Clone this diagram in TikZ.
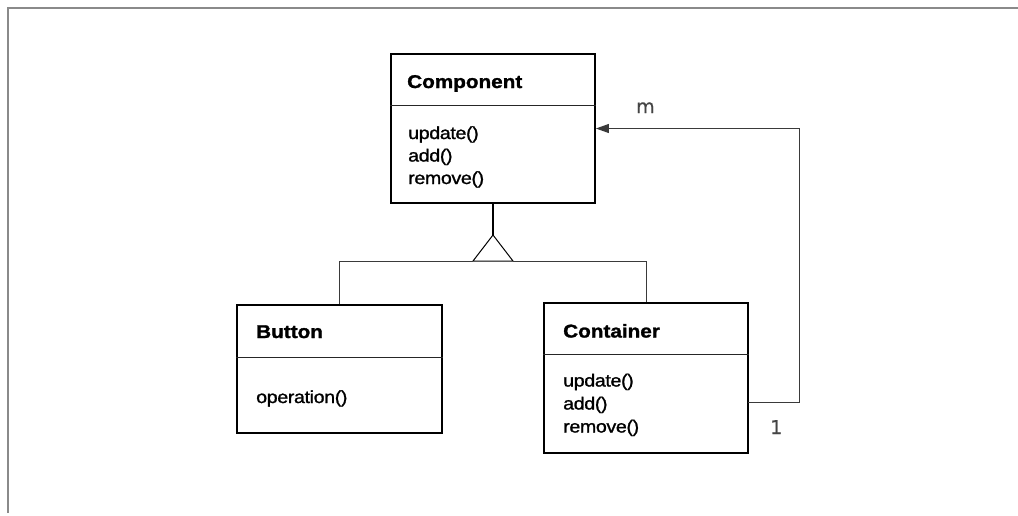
\documentclass[tikz,border=0pt]{standalone}
\usepackage{fontspec}
\setmainfont{Liberation Sans}
\newfontfamily\titlefont[FakeStretch=1.12,FakeBold=1.4]{Liberation Sans}
\newfontfamily\opfont[FakeStretch=1.12,FakeBold=1.3,LetterSpace=-2]{Liberation Sans}
\newfontfamily\multfont[FakeBold=0.8]{DejaVu Sans}
\usetikzlibrary{arrows.meta}
\definecolor{framegray}{HTML}{8A8A8A}
\definecolor{linegray}{HTML}{3A3A3A}
\definecolor{labelgray}{HTML}{444444}
\begin{document}
\begin{tikzpicture}[x=1pt,y=-1pt,
  classbox/.style={draw=black,line width=1.8pt,rectangle,minimum width=204pt,inner sep=0pt},
  divider/.style={draw=black!85,line width=1pt},
  title/.style={anchor=base west,inner sep=0pt,font=\titlefont\bfseries\fontsize{18.5}{20}\selectfont},
  method/.style={anchor=base west,inner sep=0pt,font=\opfont\fontsize{17.5}{20}\selectfont},
  link/.style={draw=linegray,line width=1pt},
  mult/.style={anchor=base west,inner sep=0pt,text=labelgray,font=\multfont\fontsize{19}{20}\selectfont}]
  \useasboundingbox (0,0) rectangle (1018,515);

  % page frame (top and left edges)
  \draw[framegray,line width=1.4pt] (8,513) -- (8,8) -- (1018,8);

  % classes
  \node[classbox,minimum height=149pt] (component) at (493,128.5) {};
  \node[classbox,minimum width=205pt,minimum height=128pt] (button) at (339.5,369) {};
  \node[classbox,minimum height=150pt] (container) at (646,378) {};

  % compartments
  \draw[divider] (component.west |- 0,105) -- (component.east |- 0,105);
  \draw[divider] (button.west |- 0,357) -- (button.east |- 0,357);
  \draw[divider] (container.west |- 0,354) -- (container.east |- 0,354);

  % names
  \node[title] (componentname) at (407,88) {Component};
  \node[title] (buttonname) at (256,338) {Button};
  \node[title] (containername) at (563,337.5) {Container};

  % operations
  \node[method] (compupdate) at (408,139) {update()};
  \node[method] (compadd) at (408,161.5) {add()};
  \node[method] (compremove) at (408,184) {remove()};
  \node[method] (buttonop) at (256,403) {operation()};
  \node[method] (contupdate) at (563,386.5) {update()};
  \node[method] (contadd) at (563,409.5) {add()};
  \node[method] (contremove) at (563,432.5) {remove()};

  % generalization: hollow triangle under Component
  \coordinate (apex) at (493,235);
  \coordinate (baseL) at (473,261);
  \coordinate (baseR) at (513,261);
  \draw[draw=black,line width=1.6pt] (component.south) -- (apex);
  \draw[link,draw=black] (apex) -- (baseL) -- (baseR) -- cycle;
  \draw[link] (baseL) -- (button.north |- baseL) -- (button.north);
  \draw[link] (baseR) -- (container.north |- baseR) -- (container.north);

  % aggregation back to Component
  \coordinate (cout) at (748,402);
  \coordinate (bend) at (799,402);
  \draw[link,-{Triangle[length=13pt,width=9pt]}] (cout) -- (bend) |- (component.east);

  % multiplicities
  \node[mult] (multm) at (636,113) {m};
  \node[mult] (multone) at (770,434) {1};
\end{tikzpicture}
\end{document}
